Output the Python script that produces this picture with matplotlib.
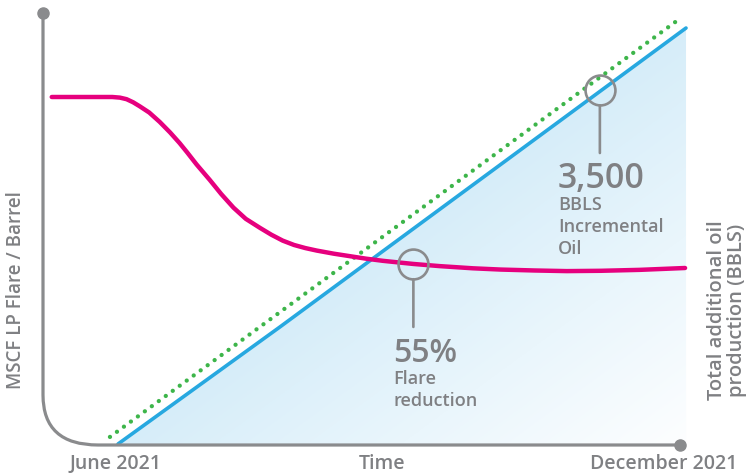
import numpy as np
import matplotlib
matplotlib.use("Agg")
import matplotlib.pyplot as plt
from matplotlib.path import Path
from matplotlib.patches import PathPatch, Polygon
from matplotlib.colors import LinearSegmentedColormap

# Months since June 2021 (0 = June, 6 = December)
oil_months = [0.0, 1.71, 6.0]
oil_bbls = [0, 1157, 4113]          # actual incremental oil (BBLS)

plan_months = [-0.085, 5.915]
plan_bbls = [70, 4192]              # planned incremental oil (dotted)

# Flare per barrel, relative to the starting level
flare_months = [-0.70, -0.06, 0.02, 0.09, 0.16, 0.23, 0.33, 0.44, 0.55, 0.65,
                0.73, 0.83, 0.97, 1.09, 1.22, 1.35, 1.50, 1.62, 1.74, 1.86,
                1.98, 2.10, 2.28, 2.45, 2.62, 2.80, 3.12, 3.40, 3.75, 4.04,
                4.40, 4.74, 5.10, 5.51, 5.99]
flare_ratio = [1.000, 1.000, 0.998, 0.993, 0.983, 0.970, 0.950, 0.920, 0.886, 0.852,
               0.822, 0.783, 0.733, 0.688, 0.644, 0.608, 0.579, 0.557, 0.538, 0.524,
               0.514, 0.506, 0.496, 0.488, 0.480, 0.473, 0.463, 0.456, 0.449, 0.445,
               0.442, 0.440, 0.441, 0.444, 0.450]

oil_callout = (5.09, 3500)
flare_callout = (3.12, 0.463)

x_labels = ["June 2021", "Time", "December 2021"]

GRAY = "#8a8b8d"
TEXT = "#7f8083"
BLUE = "#27a8e0"
PINK = "#e6007e"
GREEN = "#3db54a"
FONT = "Open Sans"

plt.rcParams["font.family"] = [FONT, "DejaVu Sans"]

fig = plt.figure(figsize=(7.46, 4.74), dpi=100)
ax = fig.add_axes([0, 0, 1, 1])
ax.set_xlim(-1.2465, 6.6336)
ax.set_ylim(-296.6, 4390)
ax.axis("off")

flare_ax = ax.twinx()
flare_ax.set_ylim(-0.2126, 1.312)
flare_ax.axis("off")

# Axis frame with rounded lower-left corner (axes fractions)
W, H = 746.0, 474.0
def frac(px, py):
    return (px / W, 1 - py / H)

verts = [frac(43, 13), frac(43, 395), frac(43, 445), frac(98, 445), frac(680, 445)]
codes = [Path.MOVETO, Path.LINETO, Path.CURVE3, Path.CURVE3, Path.LINETO]
ax.add_patch(PathPatch(Path(verts, codes), transform=ax.transAxes, fill=False,
                       edgecolor=GRAY, lw=2.3, capstyle="round", zorder=5))
for pt in (frac(43, 13), frac(680, 445)):
    ax.plot(*pt, "o", ms=8, color=GRAY, transform=ax.transAxes, zorder=6)

# Gradient fill under the oil line
fill_poly = Polygon(list(zip(oil_months, oil_bbls)) + [(oil_months[-1], 0), (oil_months[0], 0)],
                    closed=True, facecolor="none", edgecolor="none")
ax.add_patch(fill_poly)

gx = np.linspace(oil_months[0], oil_months[-1], 300)
gy = np.linspace(0, max(oil_bbls), 300)
GX, GY = np.meshgrid(gx, gy)
disp = ax.transData.transform(np.column_stack([GX.ravel(), GY.ravel()]))
p0 = ax.transData.transform((oil_months[0], oil_bbls[0]))
p1 = ax.transData.transform((oil_months[-1], oil_bbls[-1]))
d = p1 - p0
dist = np.abs((disp[:, 0] - p0[0]) * d[1] - (disp[:, 1] - p0[1]) * d[0]) / np.hypot(*d)
t = (dist / dist.max()).reshape(GX.shape)
cmap = LinearSegmentedColormap.from_list("fade", ["#d6edf9", "#eaf6fc", "#fdfeff"])
img = ax.imshow(t, extent=(gx[0], gx[-1], gy[0], gy[-1]), origin="lower",
                cmap=cmap, vmin=0, vmax=1, aspect="auto", zorder=1)
img.set_clip_path(fill_poly)

# Lines
ax.plot(plan_months, plan_bbls, color=GREEN, lw=3.1, linestyle=(0, (0.01, 2.0)),
        dash_capstyle="round", zorder=3)
ax.plot(oil_months, oil_bbls, color=BLUE, lw=2.6, solid_capstyle="round", zorder=4)
flare_ax.plot(flare_months, flare_ratio, color=PINK, lw=3.2, solid_capstyle="round",
              solid_joinstyle="round", zorder=4)

# Callouts
def callout(axis, xy, big, lines, dx, big_size):
    axis.plot(*xy, "o", ms=21.5, mfc="none", mec=GRAY, mew=1.9, zorder=7)
    axis.annotate("", xy=xy, xytext=(0, -63), textcoords="offset pixels",
                  arrowprops=dict(arrowstyle="-", color=GRAY, lw=1.9,
                                  shrinkA=0, shrinkB=11))
    axis.annotate(big, xy=xy, xytext=(dx, -98), textcoords="offset pixels",
                  fontsize=big_size, fontweight="semibold", color=TEXT, va="baseline")
    for i, line in enumerate(lines):
        axis.annotate(line, xy=xy, xytext=(dx, -120 - 22 * i), textcoords="offset pixels",
                      fontsize=13, fontweight="semibold", color=TEXT, va="baseline")

callout(ax, oil_callout, "3,500", ["BBLS", "Incremental", "Oil"], -42, 24.5)
callout(flare_ax, flare_callout, "55%", ["Flare", "reduction"], -20, 23)

# Axis labels
label_kw = dict(fontsize=14, fontweight="semibold", color=TEXT)
fig.text(*frac(116, 469), x_labels[0], ha="center", va="baseline", **label_kw)
fig.text(*frac(382, 469), x_labels[1], ha="center", va="baseline", **label_kw)
fig.text(*frac(664, 469), x_labels[2], ha="center", va="baseline", **label_kw)
fig.text(*frac(16, 290), "MSCF LP Flare / Barrel", rotation=90, ha="center", va="center",
         fontsize=13.5, fontweight="semibold", color=TEXT)
fig.text(*frac(727, 310), "Total additional oil\nproduction (BBLS)", rotation=90,
         ha="center", va="center", fontsize=14.5, fontweight="semibold", color=TEXT,
         linespacing=1.0)

fig.savefig("out.png", dpi=100)
